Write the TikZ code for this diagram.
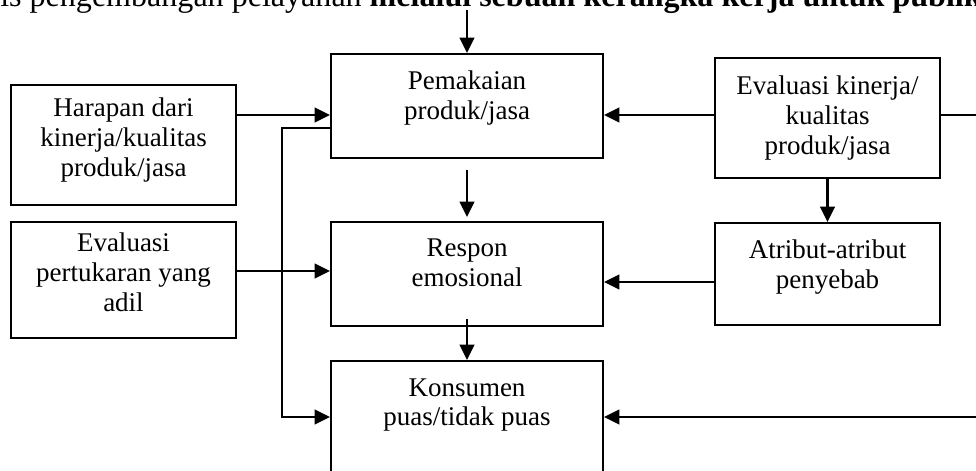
\documentclass[tikz,border=0pt]{standalone}
\usepackage{fontspec}
\setmainfont{Liberation Serif}
\usetikzlibrary{arrows.meta}
\tikzset{
    kotak/.style={draw, line width=1.3pt, align=center, inner sep=2pt,
        font=\fontsize{19.2}{21.3}\selectfont},
    panah/.style={line width=1.6pt, -{Triangle[length=11pt,width=10.5pt]}}
}
\begin{document}
\begin{tikzpicture}[x=0.025cm, y=-0.025cm]
    \useasboundingbox (0,0) rectangle (976,471);

    \node[anchor=base west, inner sep=0pt, font=\fontsize{22.8}{26}\selectfont] (judul) at (0,7)
        {is pengembangan pelayanan \textbf{melalui sebuah kerangka kerja untuk publik}};

    \node[kotak, minimum width=5.625cm, minimum height=3cm, text depth=11.1pt] (harapan) at (123.5,145) {Harapan dari\\kinerja/kualitas\\produk/jasa};
    \node[kotak, minimum width=5.625cm, minimum height=2.9cm, text depth=11.1pt] (pertukaran) at (123.5,280) {Evaluasi\\pertukaran yang\\adil};
    \node[kotak, minimum width=6.8cm, minimum height=2.6cm, text depth=15.4pt] (pemakaian) at (467,106) {Pemakaian\\produk/jasa};
    \node[kotak, minimum width=6.8cm, minimum height=2.6cm, text depth=16pt] (respon) at (467,274) {Respon\\emosional};
    \node[kotak, minimum width=6.8cm, minimum height=3cm, text depth=26.8pt] (konsumen) at (467,421) {Konsumen\\puas/tidak puas};
    \node[kotak, minimum width=5.625cm, minimum height=3cm, text depth=4pt] (kinerja) at (827.5,118) {Evaluasi kinerja/\\kualitas\\produk/jasa};
    \node[kotak, minimum width=5.625cm, minimum height=2.55cm, text depth=14pt] (atribut) at (827.5,274) {Atribut-atribut\\penyebab};

    \coordinate (atas) at (467,10);
    \coordinate (kiri) at (282,417);
    \coordinate (kanan) at (990,417);

    \draw[panah] (atas) -- (pemakaian.north);
    \draw[panah] (harapan.east |- 0,115) -- (pemakaian.west |- 0,115);
    \draw[panah] (pertukaran.east |- 0,271) -- (respon.west |- 0,271);
    \draw[panah] (kinerja.west |- 0,115) -- (pemakaian.east |- 0,115);
    \draw[panah] (atribut.west |- 0,282) -- (respon.east |- 0,282);
    \draw[panah] (kinerja.south) -- (atribut.north);
    \draw[panah, shorten <=0.275cm, shorten >=0.1cm] (pemakaian.south) -- (respon.north);
    \draw[panah, shorten <=-0.2cm] (respon.south) -- (konsumen.north);
    \draw[panah] (pemakaian.west |- 0,128) -| (kiri) -- (konsumen.west |- kiri);
    \draw[panah] (kinerja.east |- 0,115) -| (kanan) -- (konsumen.east |- kanan);
\end{tikzpicture}
\end{document}
